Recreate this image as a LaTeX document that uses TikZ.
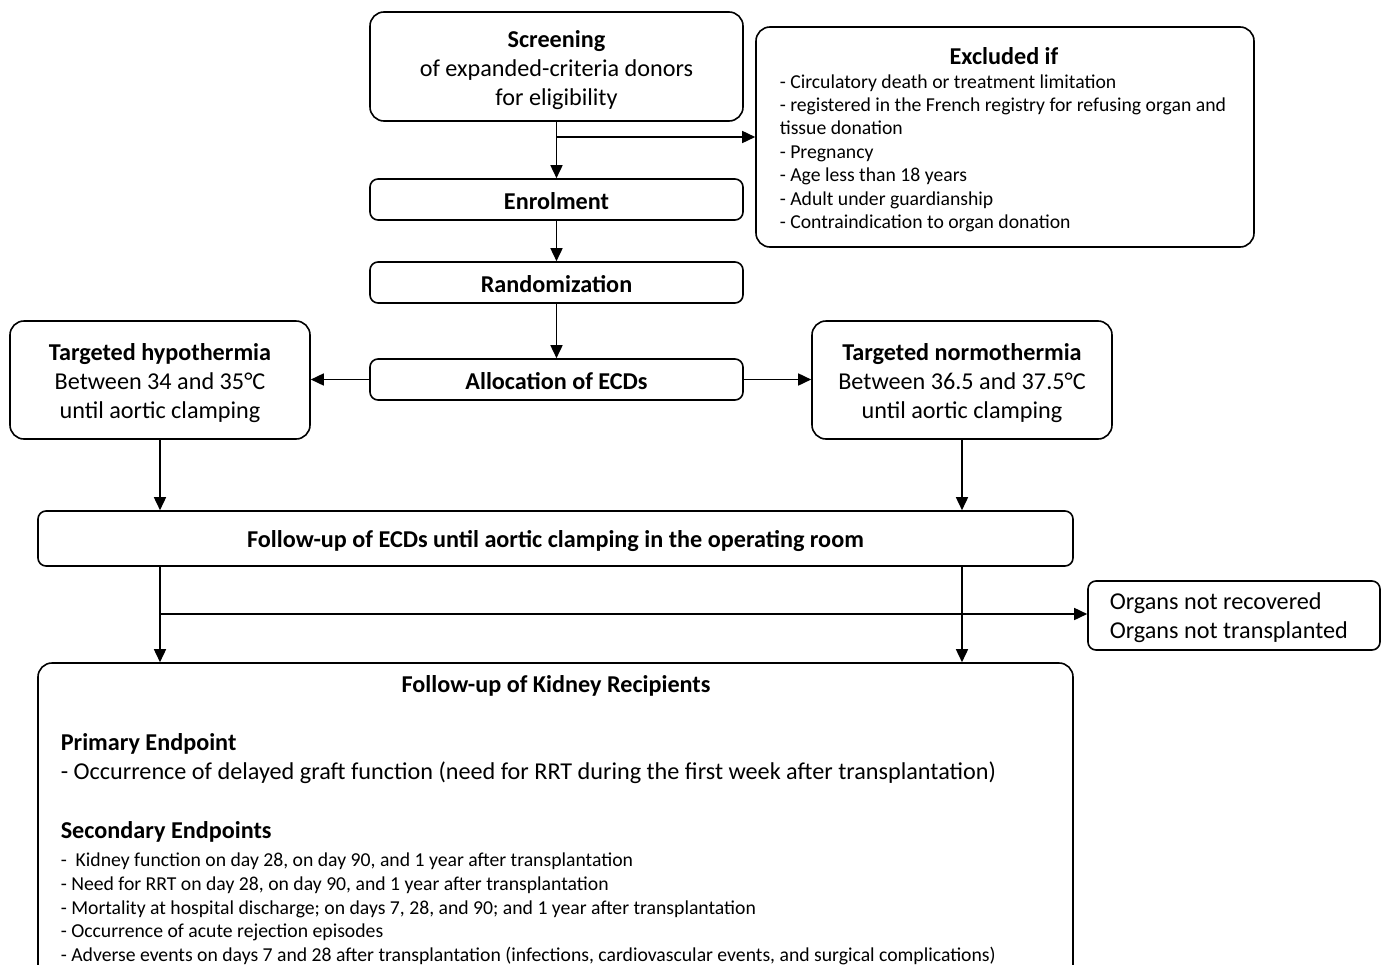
\documentclass[tikz,border=0pt]{standalone}
\usepackage{fontspec}
\setmainfont{Carlito}
\usetikzlibrary{arrows.meta}
\begin{document}
\begin{tikzpicture}[x=1pt,y=-1pt,line width=1.6pt,
  box/.style={draw,rounded corners=14pt,inner sep=0pt},
  sbox/.style={draw,rounded corners=8pt,inner sep=0pt},
  ctext/.style={inner sep=0pt,align=center,font=\fontsize{24.2}{29}\selectfont},
  arr/.style={-{Triangle[length=13pt,width=12pt]},line width=1.6pt},
  big/.style={font=\fontsize{24.2}{29}\selectfont},
  small/.style={font=\fontsize{19.7}{23.4}\selectfont},
  txt/.style={inner sep=0pt,anchor=base west}]
\useasboundingbox (0,0) rectangle (1387,964);

\node[box,minimum width=373pt,minimum height=109pt] (scr) at (556.5,66.5) {};
\node[ctext,yshift=-4pt] (scrt) at (scr.center)
  {\textbf{Screening}\\of expanded-criteria donors\\for eligibility};
\node[box,minimum width=498pt,minimum height=220pt] (exc) at (1005,137) {};
\node[inner sep=0pt,anchor=base,big] (exct) at (1004,64) {\textbf{Excluded if}};
\foreach \t [count=\i] in {%
  {- Circulatory death or treatment limitation},
  {- registered in the French registry for refusing organ and},
  {tissue donation},
  {- Pregnancy},
  {- Age less than 18 years},
  {- Adult under guardianship},
  {- Contraindication to organ donation}}
  \node[txt,small] (exc\i) at (779,{64.6+23.4*\i}) {\t};

\node[sbox,minimum width=373pt,minimum height=41pt] (enr) at (556.5,199.5) {};
\node[ctext,yshift=-1.5pt] (enrt) at (enr.center) {\textbf{Enrolment}};
\node[sbox,minimum width=373pt,minimum height=41pt] (rnd) at (556.5,282.5) {};
\node[ctext,yshift=-1.5pt] (rndt) at (rnd.center) {\textbf{Randomization}};
\node[sbox,minimum width=373pt,minimum height=41pt] (alc) at (556.5,379.5) {};
\node[ctext,yshift=-1.5pt] (alct) at (alc.center) {\textbf{Allocation of ECDs}};

\node[box,minimum width=300pt,minimum height=118pt] (hyp) at (160,380) {};
\node[ctext,yshift=-3pt] (hypt) at (hyp.center)
  {\textbf{Targeted hypothermia}\\Between 34 and 35°C\\until aortic clamping};
\node[box,minimum width=300pt,minimum height=118pt] (nor) at (962,380) {};
\node[ctext,yshift=-3pt] (nort) at (nor.center)
  {\textbf{Targeted normothermia}\\Between 36.5 and 37.5°C\\until aortic clamping};

\node[sbox,minimum width=1035pt,minimum height=55pt] (fu) at (555.5,538.5) {};
\node[ctext,yshift=-2.5pt] (fut) at (fu.center)
  {\textbf{Follow-up of ECDs until aortic clamping in the operating room}};

\node[sbox,minimum width=292pt,minimum height=69pt] (org) at (1234,615.5) {};
\node[txt,big] (org1) at (1109,609) {Organs not recovered};
\node[txt,big] (org2) at (1109,638) {Organs not transplanted};

\node[box,minimum width=1035pt,minimum height=327pt] (kid) at (555.5,826.5) {};
\node[inner sep=0pt,anchor=base,big] (kidt) at (556,692) {\textbf{Follow-up of Kidney Recipients}};
\node[txt,big] (pe) at (60,750) {\textbf{Primary Endpoint}};
\node[txt,big] (pe1) at (60,779) {- Occurrence of delayed graft function (need for RRT during the first week after transplantation)};
\node[txt,big] (se) at (60,838) {\textbf{Secondary Endpoints}};
\foreach \t/\yy [count=\i] in {%
  {-\ \ Kidney function on day 28, on day 90, and 1 year after transplantation}/866,
  {- Need for RRT on day 28, on day 90, and 1 year after transplantation}/890,
  {- Mortality at hospital discharge; on days 7, 28, and 90; and 1 year after transplantation}/914,
  {- Occurrence of acute rejection episodes}/937,
  {- Adverse events on days 7 and 28 after transplantation (infections, cardiovascular events, and surgical complications)}/961}
  \node[txt,small] (se\i) at (60,\yy) {\t};

\draw[arr] (scr.south) -- (enr.north);
\coordinate (b1) at (556.5,137);
\draw[arr] (b1) -- (b1 -| exc.west);
\draw[arr] (enr.south) -- (rnd.north);
\draw[arr] (rnd.south) -- (alc.north);
\draw[arr] (alc.west) -- (hyp.east |- alc.west);
\draw[arr] (alc.east) -- (nor.west |- alc.east);
\draw[arr] (hyp.south) -- (hyp.south |- fu.north);
\draw[arr] (nor.south) -- (nor.south |- fu.north);
\draw[arr] (fu.south -| hyp.south) -- (kid.north -| hyp.south);
\draw[arr] (fu.south -| nor.south) -- (kid.north -| nor.south);
\coordinate (b2) at (160,614);
\draw[arr] (b2) -- (b2 -| org.west);
\end{tikzpicture}
\end{document}
